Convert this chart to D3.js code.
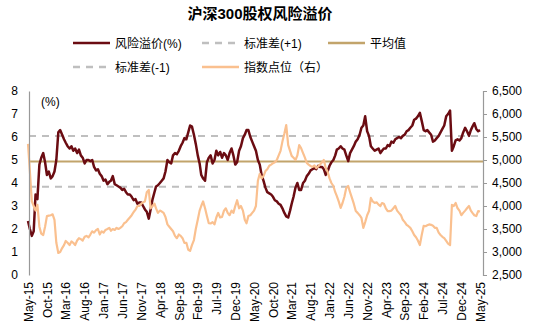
<!DOCTYPE html>
<html><head><meta charset="utf-8">
<script src="https://cdn.jsdelivr.net/npm/d3@7"></script>
<style>
html,body{margin:0;padding:0;background:#fff;}
svg text{font-family:Arial,"Liberation Sans","Noto Sans CJK SC",sans-serif;fill:#000;}
</style></head>
<body>
<svg id="c" width="541" height="334"></svg>
<script>
const title = "沪深300股权风险溢价";
const seriesNames = ["风险溢价(%)", "标准差(+1)", "平均值", "标准差(-1)", "指数点位（右）"];
const tickLabels = ["May-15","Oct-15","Mar-16","Aug-16","Jan-17","Jun-17","Nov-17","Apr-18","Sep-18","Feb-19","Jul-19","Dec-19","May-20","Oct-20","Mar-21","Aug-21","Jan-22","Jun-22","Nov-22","Apr-23","Sep-23","Feb-24","Jul-24","Dec-24","May-25"];
const leftTicks = [0,1,2,3,4,5,6,7,8];
const rightTicks = [2500,3000,3500,4000,4500,5000,5500,6000,6500];
const meanValue = 4.94;
const stdPlus = 6.04;
const stdMinus = 3.84;
// half-monthly observations starting May 2015 (1st and 16th of each month)
const premium = [
2.35,2.0, 1.7,1.9, 3.5,3.3, 4.8,5.1, 5.3,4.9, 4.35,4.5, 4.2,4.3, 4.5,5.0,
6.2,6.3, 6.1,5.9, 5.75,5.6, 5.5,5.6, 5.4,5.5, 5.3,5.45, 5.2,5.1, 4.85,5.0,
5.0,4.95, 5.0,4.7, 4.55,4.6, 4.4,4.3, 4.1,4.15, 3.95,4.05, 4.1,4.3, 3.95,3.9,
3.85,3.8, 3.7,3.75, 3.6,3.5, 3.5,3.4, 3.25,3.3, 3.1,3.15, 3.15,3.0, 2.85,2.75,
2.45,2.85, 3.3,3.6, 3.85,3.9, 4.0,4.1, 4.2,4.5, 5.0,4.9, 4.85,5.2, 5.3,5.25,
5.4,5.6, 5.75,5.95, 5.9,6.2, 6.5,6.45, 6.1,5.7, 5.2,4.85, 4.35,4.2, 4.1,4.9,
5.1,5.2, 4.85,5.0, 5.4,5.2, 5.35,5.1, 5.3,5.2, 5.0,5.3, 5.5,5.2, 4.8,4.9,
5.4,5.6, 5.95,6.1, 6.3,6.3, 6.0,5.8, 5.6,5.4, 5.0,4.8, 4.35,4.1, 3.8,3.6,
3.55,3.5, 3.4,3.25, 3.2,3.1, 3.05,2.9, 2.7,2.55, 2.5,2.8, 3.1,3.4, 3.8,4.0,
3.7,3.7, 4.0,4.1, 4.3,4.4, 4.55,4.6, 4.65,4.6, 4.75,4.7, 4.7,4.6, 4.35,4.5,
4.75,4.9, 5.0,5.2, 5.45,5.5, 5.6,5.5, 5.45,5.2, 4.95,5.3, 5.45,5.6, 5.8,5.9,
6.1,6.4, 6.5,6.9, 6.25,6.05, 5.6,5.5, 5.4,5.45, 5.5,5.3, 5.4,5.5, 5.5,5.65,
5.6,5.8, 5.75,5.9, 5.95,6.0, 5.95,6.05, 6.1,6.25, 6.3,6.4, 6.5,6.75, 6.8,6.9,
7.05,6.7, 6.3,6.25, 6.3,6.2, 6.1,5.8, 5.85,5.95, 6.05,6.2, 6.35,6.5, 6.9,7.0,
7.15,5.4, 5.6,5.85, 5.9,5.85, 5.95,6.2, 6.4,6.25, 6.05,6.3, 6.45,6.6, 6.35,6.25,
6.3
];
const indexLevel = [
5350,4760, 4100,4000, 3900,4025, 3550,3400, 3370,3550, 3780,3790, 3800,3820, 3700,3200,
2980,3000, 3085,3150, 3240,3200, 3150,3230, 3200,3150, 3250,3300, 3280,3250, 3330,3350,
3320,3380, 3450,3420, 3475,3500, 3380,3450, 3420,3480, 3500,3525, 3460,3500, 3480,3525,
3500,3525, 3560,3625, 3650,3700, 3750,3800, 3870,3920, 4000,4000, 4050,4080, 4100,4300,
4350,3950, 4000,4050, 3950,3850, 3900,3880, 3850,3760, 3600,3550, 3500,3450, 3350,3300,
3380,3350, 3300,3200, 3200,3050, 3025,3150, 3260,3500, 3700,3900, 4000,4100, 3950,3780,
3625,3620, 3650,3600, 3750,3850, 3750,3760, 3900,3950, 3850,3800, 3900,3850, 4000,4125,
3950,4000, 3900,3700, 3625,3780, 3800,3850, 3900,4000, 4550,4700, 4600,4650, 4760,4800,
4875,4900, 4930,4950, 5000,5100, 5200,5400, 5575,5760, 5325,5200, 5090,5050, 5000,5100,
5325,5260, 5150,5050, 4935,4900, 4870,4850, 4880,4825, 4860,4900, 4950,5000, 4825,4750,
4600,4500, 4435,4300, 4215,4100, 3960,4065, 4200,4390, 4435,4300, 4175,4050, 3890,3850,
3800,3740, 3525,3650, 3800,3890, 4175,4100, 4065,4080, 4030,4000, 4065,4050, 3950,3890,
3890,3900, 3950,4000, 3900,3850, 3800,3700, 3650,3590, 3560,3525, 3450,3370, 3320,3250,
3150,3370, 3570,3560, 3580,3600, 3590,3570, 3525,3525, 3420,3370, 3330,3300, 3240,3180,
3150,4025, 4000,4065, 3950,3900, 3800,3850, 3900,3950, 4000,3900, 3850,3800, 3780,3890,
3880
];

const colors = {premium:"#6B0C12", index:"#FAC08F", mean:"#C2A46B", std:"#BFBFBF"};
const dates = premium.map((_, i) => new Date(2015, 4 + Math.floor(i/2), i % 2 ? 16 : 1));
const tickDates = tickLabels.map((_, i) => new Date(2015, 4 + 5*i, 1));

const svg = d3.select("#c");
const x = d3.scaleTime().domain([new Date(2015,4,1), new Date(2025,4,1)]).range([28, 480]);
const yL = d3.scaleLinear().domain([0, 8]).range([275, 91]);
const yR = d3.scaleLinear().domain([2500, 6500]).range([275, 91]);
const plotL = 29, plotR = 483;

// title
svg.append("text").attr("x", 260).attr("y", 19).attr("text-anchor","middle")
  .style("font-size","15px").style("font-weight","bold").text(title);

// legend
const leg = [
  {name:seriesNames[0], x:73, y:43, color:colors.premium, dash:null, w:2.5},
  {name:seriesNames[1], x:202, y:43, color:colors.std, dash:"7,6", w:2.5},
  {name:seriesNames[2], x:328, y:43, color:colors.mean, dash:null, w:2.5},
  {name:seriesNames[3], x:73, y:67, color:colors.std, dash:"7,6", w:2.5},
  {name:seriesNames[4], x:202, y:67, color:colors.index, dash:null, w:2.5}
];
leg.forEach(d => {
  svg.append("line").attr("x1", d.x).attr("x2", d.x+37).attr("y1", d.y).attr("y2", d.y)
    .attr("stroke", d.color).attr("stroke-width", d.w).attr("stroke-dasharray", d.dash);
  svg.append("text").attr("x", d.x+42).attr("y", d.y+4.5).style("font-size","12px").text(d.name);
});

// unit label
svg.append("text").attr("x", 41).attr("y", 106).style("font-size","12px").text("(%)");

// reference lines
[stdPlus, stdMinus].forEach(v => {
  svg.append("line").attr("x1", plotL).attr("x2", plotR).attr("y1", yL(v)).attr("y2", yL(v))
    .attr("stroke", colors.std).attr("stroke-width", 2).attr("stroke-dasharray","7,6");
});
svg.append("line").attr("x1", plotL).attr("x2", plotR).attr("y1", yL(meanValue)).attr("y2", yL(meanValue))
  .attr("stroke", colors.mean).attr("stroke-width", 2);

// series
const linePrem = d3.line().x((d,i) => x(dates[i])).y(d => yL(d));
const lineIdx = d3.line().x((d,i) => x(dates[i])).y(d => yR(d));
svg.append("path").datum(premium).attr("d", linePrem).attr("fill","none")
  .attr("stroke", colors.premium).attr("stroke-width", 2.5).attr("stroke-linejoin","round");
svg.append("path").datum(indexLevel).attr("d", lineIdx).attr("fill","none")
  .attr("stroke", colors.index).attr("stroke-width", 2.2).attr("stroke-linejoin","round");

// left axis
const gL = svg.append("g").attr("transform", `translate(${plotL},0)`)
  .call(d3.axisLeft(yL).tickValues(leftTicks).tickSize(0).tickPadding(11).tickFormat(d3.format("d")));
gL.select(".domain").attr("stroke","#999").attr("stroke-width",1.2);
gL.selectAll("text").style("font-size","12px").style("font-family","Arial,'Liberation Sans',sans-serif").attr("fill","#000");

// right axis
const gR = svg.append("g").attr("transform", `translate(${plotR},0)`)
  .call(d3.axisRight(yR).tickValues(rightTicks).tickSize(4).tickPadding(5).tickFormat(d3.format(",")));
gR.select(".domain").attr("stroke","#999").attr("stroke-width",1.2);
gR.selectAll(".tick line").attr("stroke","#999");
gR.selectAll("text").style("font-size","12px").style("font-family","Arial,'Liberation Sans',sans-serif").attr("fill","#000");

// bottom axis
const gB = svg.append("g").attr("transform", `translate(0,276)`)
  .call(d3.axisBottom(x).tickValues(tickDates).tickSize(0).tickFormat((d,i) => tickLabels[i]));
gB.select(".domain").remove();
gB.selectAll("text").style("font-size","12px").style("font-family","Arial,'Liberation Sans',sans-serif")
  .attr("fill","#000").attr("text-anchor","end")
  .attr("transform","rotate(-90)").attr("x", -6).attr("y", 0).attr("dy","0.35em");
</script>
</body></html>
